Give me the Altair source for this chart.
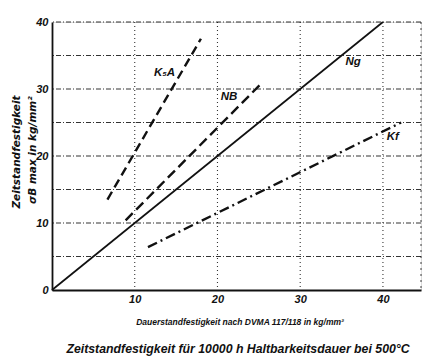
import altair as alt
import pandas as pd

# Data
series = ["Ng", "K5A", "NB", "Kf"]
x_start = [0.0, 6.7, 8.9, 11.6]
y_start = [0.0, 13.5, 10.4, 6.4]
x_end = [40.0, 18.0, 25.2, 42.2]
y_end = [40.0, 37.5, 30.7, 25.0]

label_text = ["Ng", "K₅A", "NB", "Kf"]
label_x = [36.4, 13.6, 21.4, 41.2]
label_y = [34.0, 32.4, 28.8, 22.8]

x_ticks = [10, 20, 30, 40]
y_ticks = [0, 10, 20, 30, 40]
y_grid = [5, 10, 15, 20, 25, 30, 35, 40]

FONT = "Liberation Sans"
WIDE = "DejaVu Sans"
INK = "#111111"

rows = []
for s, xs, ys, xe, ye in zip(series, x_start, y_start, x_end, y_end):
    rows.append({"s": s, "x": xs, "y": ys, "o": 0})
    rows.append({"s": s, "x": xe, "y": ye, "o": 1})
lines_df = pd.DataFrame(rows)
labels_df = pd.DataFrame({"t": label_text, "x": label_x, "y": label_y})

xscale = alt.Scale(domain=[0, 44.6], nice=False, zero=False)
yscale = alt.Scale(domain=[0, 40], nice=False)

xaxis = alt.Axis(values=x_ticks, title=None, grid=False, domainColor=INK, domainWidth=2.2, tickSize=0,
                 labelFont=FONT, labelFontSize=11, labelFontWeight="bold", labelFontStyle="italic",
                 labelColor=INK, labelPadding=3)
yaxis = alt.Axis(values=y_ticks, title=None, grid=False, domainColor=INK, domainWidth=1.8, tickSize=0,
                 labelFont=FONT, labelFontSize=11, labelFontWeight="bold", labelFontStyle="italic",
                 labelColor=INK, labelPadding=4)

hgrid = alt.Chart(pd.DataFrame({"y": y_grid})).mark_rule(
    color=INK, strokeDash=[5, 2, 1, 2], strokeWidth=1.1, opacity=0.85
).encode(y=alt.Y("y:Q", scale=yscale, axis=yaxis))

vgrid = alt.Chart(pd.DataFrame({"x": x_ticks})).mark_rule(
    color=INK, strokeDash=[1, 3], strokeWidth=1.1, opacity=0.85
).encode(x=alt.X("x:Q", scale=xscale, axis=xaxis))

border = alt.Chart(pd.DataFrame({"x": [44.6]})).mark_rule(
    color=INK, strokeDash=[2, 4], strokeWidth=1, opacity=0.8
).encode(x=alt.X("x:Q", scale=xscale))

base = alt.Chart(lines_df)

def line_layer(name, dash, width):
    m = base.transform_filter(alt.datum.s == name)
    if dash:
        m = m.mark_line(color=INK, strokeWidth=width, strokeDash=dash)
    else:
        m = m.mark_line(color=INK, strokeWidth=width)
    return m.encode(
        x=alt.X("x:Q", scale=xscale),
        y=alt.Y("y:Q", scale=yscale),
        order="o:Q",
    )

ng = line_layer("Ng", None, 1.7)
k5a = line_layer("K5A", [9, 5], 2.4)
nb = line_layer("NB", [10, 5], 2.4)
kf = line_layer("Kf", [10, 4, 2, 4], 2.4)

labels = alt.Chart(labels_df).mark_text(
    font=FONT, fontSize=11.5, fontWeight="bold", fontStyle="italic", color=INK
).encode(x=alt.X("x:Q", scale=xscale), y=alt.Y("y:Q", scale=yscale), text="t:N")

def text_at(t, px, py, size, angle=0, font=FONT):
    return alt.Chart(pd.DataFrame({"t": [t]})).mark_text(
        font=font, fontSize=size, fontWeight="bold", fontStyle="italic", color=INK,
        angle=angle, align="center", baseline="middle"
    ).encode(x=alt.value(px), y=alt.value(py), text="t:N")

xtitle = text_at("Dauerstandfestigkeit nach DVMA 117/118 in kg/mm²", 188, 300, 8.5)
title = text_at("Zeitstandfestigkeit für 10000 h Haltbarkeitsdauer bei 500°C", 186, 327, 12.3)
ytitle1 = text_at("Zeitstandfestigkeit", -35, 130, 10.5, 270, WIDE)
ytitle2 = text_at("σB max in kg/mm²", -19, 128, 10.5, 270, WIDE)

chart = alt.layer(hgrid, vgrid, border, ng, k5a, nb, kf, labels, xtitle, title, ytitle1, ytitle2).properties(
    width=369, height=268,
    padding={"left": 44, "top": 14, "right": 1, "bottom": 72},
    autosize=alt.AutoSizeParams(type="none"),
).configure_view(stroke=None).configure(background="white")

chart.save("out.html", embed_options={"renderer": "svg", "actions": False})
